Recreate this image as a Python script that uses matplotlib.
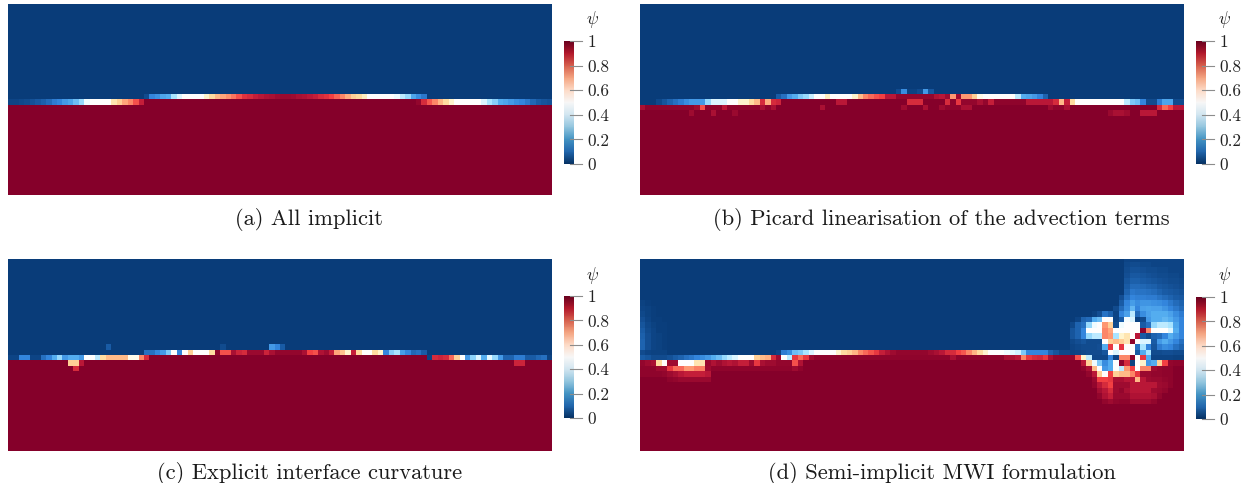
import numpy as np
import matplotlib
matplotlib.use("Agg")
import matplotlib.pyplot as plt
from matplotlib.colors import LinearSegmentedColormap, Normalize
from matplotlib.colorbar import ColorbarBase
from matplotlib.transforms import blended_transform_factory

plt.rcParams['font.family'] = ['cmr10', 'DejaVu Serif']
plt.rcParams['mathtext.fontset'] = 'cm'
plt.rcParams['axes.unicode_minus'] = False
plt.rcParams['axes.formatter.use_mathtext'] = True

captions = ["(a) All implicit", "(b) Picard linearisation of the advection terms",
            "(c) Explicit interface curvature", "(d) Semi-implicit MWI formulation"]
cbar_ticks = [0, 0.2, 0.4, 0.6, 0.8, 1]
cbar_labels = ["0", "0.2", "0.4", "0.6", "0.8", "1"]

# Panel (a)
a_row17 = [.05,.2,.23,.28,.3,.4,.45,.5,.5,.5,.5,.55,.6,.65,.68,.71,.74,.78,.83,.85,.88,.9,.92,.93,.95,
           .96,.96,.95,.93,.92,.9,.88,.85,.83,.8,.76,.72,.67,.62,.6,.56,.5,.5,.5,.5,.5,.47,.42,.38,.28,.22,.17]
a_row18_left = [.03,.03,.04,.05,.07,.09,.11,.14,.18,.2,.25,.28,.33,.38,.47,.5,.5,.5,.5,.58,.62,.68,.72,.78,.88]
a_row18_right = [.97,.85,.77,.72,.66,.6,.55,.5,.5,.5,.5,.5,.45,.4,.36,.3,.28,.25,.22,.2,.17,.13,.1,.08,.07]

# Panel (b)
b_row16 = [.05,.22,.02,.02,.05,.25,.08]
b_row17 = [.1,.15,.25,.3,.35,.38,.43,.5,.5,.56,.5,.5,.5,.5,.55,.65,.72,.75,.78,.8,.9,.9,
           .97,.97,.97,.97,.97,.97,.97,.92,.9,.95,.7,.95,.7,.7,.62,.52,
           .5,.5,.5,.5,.5,.5,.42,.3,.28,.25,.2,.12]
b_row18_left = [0,0,0,.04,.08,.12,.15,.18,.22,.25,.25,.25,.38,.45,.45,.45,.5,.5,.55,.55,.6,.65,.85,.67,.85,.87]
b_row18_mid1 = [.9,.9]
b_row18_mid2 = [.85,.85,.85]
b_row18_right = [1,.85,.98,.82,.97,.97,.97,.93,.97,.88,.98,.98,.98,.98,.98,.98,.9,.9,.9,.9,.9,.85,.65,.88,.6,
                 .5,.5,.5,.5,.5,.5,.5,.5,.5,.42,.35,.33,.2,.05,.05,.18,.28,.28,.05,.05]
b_row19_left = [.93,.98,.98,.98,.98,.98,.98,.98,.98,.98,.95,.78,.98,.98,.98,.9,.98,.98,.98,.98,.98,.98,.93,.98,.93]
b_row19_a = [.93]
b_row19_b = [.95]
b_row19_c = [.93]
b_row19_d = [.95,.98,.98,.98,.93,.93]
b_row19_e = [.95,.98,.98,.93]
b_row19_right = [.85,.75,.8,.9,.9]
b_row20_a = [.95]
b_row20_b = [.93]
b_row20_c = [.96]
b_row20_d = [.96,.93,.93,.95]
b_row20_e = [.9,.9,.9]

# Panel (c)
c_row16_a = [.1]
c_row16_b = [.05]
c_row16_c = [.25,.2,.1]
c_row17 = [.15,.15,.2,.25,.35,.5,.2,.5,.62,.5,.5,.5,.6,.98,.78,.78,.93,.87,.85,.96,.96,.96,.87,.93,
           .97,.97,.97,.97,.97,.93,.8,.78,.92,.95,.88,.68,.64,.55,.88,.6,.5,.5,.6,.55,.2,.36,.4,.26,.2,.13,.15,.1]
c_row18_left = [.03,.03,.2,.2,.03,.03,.15,.2,.3,.38,.25,.3,.3,.25,.5,.5,.42,.6,.65,.65,.65,.65,.52,.52,.72,.85]
c_row18_right = [.02,.85,.87,.85,.75,.62,.5,.25,.37,.45,.3,.46,.38,.25,.12,.12,.18,.18,.1,.1,.13,.15,.02]
c_row19_a = [.62,.62,.9]
c_row19_b = [.87,.87]
c_row20 = [.85]

# Panel (d)
d_row17 = [.03,.18,.22,.33,.35,.4,.45,.5,.5,.5,.5,.55,.6,.62,.66,.72,.75,.78,.82,.88,.92,.95,
           .97,.97,.97,.97,.97,.97,.95,.93,.9,.85,.85,.8,.77,.72,.66,.6,.55,.5,.5,.5,.47,.46,.44,.35,.2,.2,.2,.2,.12,.08,.04,.04]
d_row18 = [.1,.08,.05,.05,.05,.07,.1,.12,.15,.17,.2,.22,.25,.3,.33,.38,.42,.45,.5,.5,.5,.62,.65,.67,.85,.95,.5,.42,.82,.75,.82,.95,
           .98,.98,.98,.98,.98,.98,.98,.98,.98,.98,.98,.98,.98,.98,.98,.98,.98,.98,.98,.98,.98,.98,.98,.98,.98,.93,
           .98,.98,.98,.98,.98,.98,.98,.98,.98,.93,.93,.9,.72,.82,.85,.86,.82,.93,.97,.97,.97]
d_row19 = [.97,.95,.93,.6,.5,.95,.95,.5,.5,.5,.58,.58,.96,.92,.95,.92,.9,.92,.88,.88,.95,.82,.93,.95,.95,.97,.97,.97,.78,.92]
d_row20 = [.98,.98,.98,.95,.95,.82,.75,.75,.7,.7,.73,.73,.95,.98,.98,.98,.98,.98,.98,.98,.98,.98,.98,.98,.98,.98,.98,.98,.95,.98]
d_row21 = [.98,.98,.98,.98,.97,.95,.93,.9,.88,.88,.88,.88,.9]
d_row22 = [.98,.97,.96,.96,.96,.96,.96,.96]
d_glow = [
    [.02,.01,0,0,0],
    [.03,.02,.01,0,0],
    [.04,.02,.01,0,0],
    [.06,.03,.01,.01,0],
    [.08,.04,.02,.01,.01],
    [.1,.05,.03,.01,.01],
    [.11,.06,.03,.02,.01],
    [.12,.06,.03,.02,.01],
    [.12,.06,.03,.02,.01],
    [.05,.03,.02,.02,.02],
]
d_patch = [
    [0,0,0,0,0,0,0,0,0,0,.03,.03,.03,.03,.03,.03,.03,.03,.03,.03,.03],
    [0,0,0,0,0,0,0,0,0,0,.04,.05,.05,.04,.04,.03,.03,.03,.03,.03,.03],
    [0,0,0,0,0,0,0,0,0,0,.05,.07,.07,.06,.05,.05,.04,.04,.03,.03,.03],
    [0,0,0,0,0,0,0,0,0,0,.06,.09,.09,.08,.07,.06,.05,.05,.04,.04,.03],
    [0,0,0,0,0,0,0,0,0,0,.08,.11,.11,.1,.09,.08,.07,.06,.05,.05,.04],
    [0,0,0,0,0,0,0,0,0,0,.1,.14,.14,.13,.12,.11,.09,.08,.07,.06,.05],
    [0,0,0,0,0,0,0,0,0,0,.12,.17,.16,.16,.15,.14,.12,.1,.09,.08,.07],
    [0,0,0,0,0,0,0,0,0,.06,.15,.2,.19,.19,.18,.18,.16,.14,.12,.1,.09],
    [0,0,0,0,0,0,0,0,0,.1,.2,.26,.22,.24,.24,.23,.22,.2,.17,.14,.12],
    [0,0,0,0,0,0,0,0,.05,.14,.22,.32,.2,.27,.28,.27,.27,.24,.2,.17,.14],
    [0,0,0,0,.02,.06,.16,.12,.03,.2,.27,.42,.14,.22,.27,.3,.3,.3,.27,.22,.18],
    [0,.03,.12,.14,.3,.33,.5,.5,.03,.1,.48,.45,.02,.05,.25,.3,.3,.32,.3,.25,.2],
    [.04,.12,.15,.38,.47,.5,.7,.62,.05,.47,.5,.5,.5,.1,.15,.38,.42,.42,.4,.28,.2],
    [.08,.12,.2,.5,.5,.5,.72,.68,.5,.5,.5,.5,.5,.98,.72,.5,.5,.5,.45,.3,.2],
    [.08,.12,.2,.38,.42,.42,.72,.7,.4,.55,.58,.5,.9,.1,.05,.12,.14,.2,.3,.25,.2],
    [.04,.06,.08,.05,.05,.05,.5,.62,.65,.62,.58,.98,.5,.45,.45,.1,.25,.3,.25,.2,.15],
    [.03,.04,.05,.05,.05,.06,.3,.82,.5,.82,.5,.5,.15,.4,.2,.08,.18,.22,.2,.15,.12],
    [.02,.03,.04,.05,.05,.05,.08,.5,.45,.5,.5,.5,.1,.3,.4,.05,.05,.06,.06,.05,.05],
    [.97,.78,.55,.42,.04,.04,.04,.2,.03,.72,.72,.98,.5,.82,.3,.03,.03,.03,.03,.02,.02],
    [1,1,.9,.62,.47,.35,.22,.3,.5,.98,.85,.02,.5,.55,.25,.3,.62,.8,.97,.98,.98],
    [1,1,.98,.93,.65,.5,.25,.3,.5,.42,.7,.8,.5,.72,.72,.95,.97,.98,.98,1,1],
    [1,1,1,.97,.9,.62,.5,.8,.62,.65,.65,.72,.82,.96,.96,.97,.97,.98,.98,1,1],
    [1,1,1,1,.96,.8,.8,.82,.93,.93,.9,.9,.65,.9,.95,.96,.96,.97,.98,1,1],
    [1,1,1,1,.97,.9,.85,.8,.95,.95,.95,.9,.9,.9,.9,.9,.95,.96,.98,1,1],
    [1,1,1,1,1,.94,.9,.85,.95,.97,.93,.9,.9,.9,.9,.95,.96,.97,1,1,1],
    [1,1,1,1,1,.97,.92,.88,.96,.96,.96,.92,.92,.92,.92,.93,.97,1,1,1,1],
    [1,1,1,1,1,1,.97,.95,.97,.98,.98,.95,.95,.95,.95,.97,1,1,1,1,1],
]

NROWS, NCOLS = 36, 100
W, H = 1247, 483


def base_field():
    f = np.zeros((NROWS, NCOLS))
    f[18:, :] = 1.0
    return f


def put(f, row, col, vals):
    vals = np.atleast_2d(vals)
    f[row:row + vals.shape[0], col:col + vals.shape[1]] = vals
    return f


fa = base_field()
put(fa, 17, 25, a_row17); put(fa, 18, 0, a_row18_left); put(fa, 18, 75, a_row18_right)

fb = base_field()
put(fb, 16, 47, b_row16); put(fb, 17, 25, b_row17)
put(fb, 18, 0, b_row18_left); put(fb, 18, 36, b_row18_mid1); put(fb, 18, 49, b_row18_mid2)
put(fb, 18, 55, b_row18_right)
put(fb, 19, 0, b_row19_left); put(fb, 19, 33, b_row19_a); put(fb, 19, 48, b_row19_b); put(fb, 19, 52, b_row19_c)
put(fb, 19, 55, b_row19_d); put(fb, 19, 75, b_row19_e); put(fb, 19, 95, b_row19_right)
put(fb, 20, 9, b_row20_a); put(fb, 20, 13, b_row20_b); put(fb, 20, 17, b_row20_c)
put(fb, 20, 86, b_row20_d); put(fb, 20, 92, b_row20_e)

fc = base_field()
put(fc, 16, 18, c_row16_a); put(fc, 16, 39, c_row16_b); put(fc, 16, 48, c_row16_c)
put(fc, 17, 25, c_row17); put(fc, 18, 0, c_row18_left); put(fc, 18, 77, c_row18_right)
put(fc, 19, 11, c_row19_a); put(fc, 19, 93, c_row19_b); put(fc, 20, 12, c_row20)

fd = base_field()
put(fd, 17, 25, d_row17); put(fd, 18, 0, d_row18); put(fd, 19, 0, d_row19)
put(fd, 20, 0, d_row20); put(fd, 21, 0, d_row21); put(fd, 22, 5, d_row22)
put(fd, 8, 0, d_glow); put(fd, 0, 79, d_patch)

field_cmap = LinearSegmentedColormap.from_list("field", [
    (0.00, "#093c79"), (0.10, "#1a5ca6"), (0.20, "#3385dc"), (0.30, "#55aef0"),
    (0.40, "#a8e4ff"), (0.47, "#f0fcff"), (0.50, "#ffffff"), (0.55, "#fff4cc"),
    (0.60, "#ffdca0"), (0.70, "#ff9a72"), (0.80, "#f23f42"), (0.90, "#bb1838"),
    (1.00, "#85002a")])
norm = Normalize(0, 1)

fig = plt.figure(figsize=(W / 100, H / 100), dpi=100)


def px_axes(x0, y0, x1, y1):
    return fig.add_axes([x0 / W, 1 - y1 / H, (x1 - x0) / W, (y1 - y0) / H])


layout = [
    (fa, (8, 4, 552, 195), 564, 41, 164, 219, 309),
    (fb, (640, 4, 1184, 195), 1196, 41, 164, 219, 941),
    (fc, (8, 259, 552, 451), 564, 296, 418, 473.5, 309.5),
    (fd, (640, 259, 1184, 451), 1196, 297, 419, 473.5, 941.5),
]

for (field, box, cx, cy0, cy1, capy, capx), cap in zip(layout, captions):
    ax = px_axes(*box)
    ax.imshow(field, cmap=field_cmap, norm=norm, aspect='auto', interpolation='nearest',
              extent=[0, NCOLS, NROWS - 0.5, -0.5])
    ax.set_xlim(0, NCOLS)
    ax.set_ylim(NROWS - 1, 0)
    ax.axis('off')

    cax = px_axes(cx, cy0, cx + 9.5, cy1)
    cb = ColorbarBase(cax, cmap='RdBu_r', norm=norm, ticks=cbar_ticks)
    cb.outline.set_visible(False)
    cb.ax.set_yticklabels(cbar_labels, fontsize=12.4, color="#222222")
    cb.ax.tick_params(length=0, pad=10)
    tr = blended_transform_factory(cax.transAxes, cax.transData)
    for t in cbar_ticks:
        cax.plot([0.6, 1.85], [t, t], transform=tr, color="#8c8c8c", lw=0.8, clip_on=False)

    fig.text((cx + 28) / W, 1 - (cy0 - 21) / H, r"$\psi$", fontsize=12.5, ha='center', va='center', color="#222222")
    fig.text(capx / W, 1 - capy / H, cap, fontsize=16.2, ha='center', va='center', color="#1a1a1a")

fig.savefig("out.png", dpi=100)
